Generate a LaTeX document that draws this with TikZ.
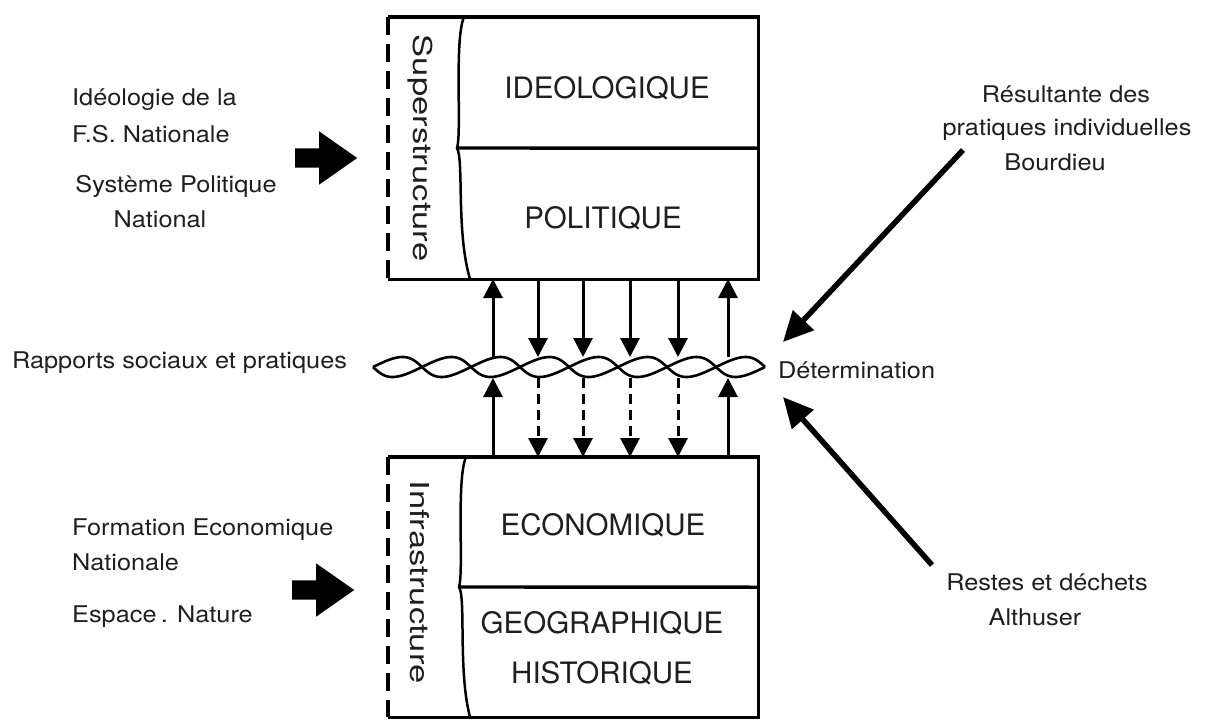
\documentclass[tikz,border=0pt]{standalone}
\usepackage{fontspec}
\setmainfont{TeX Gyre Heros}
\usepackage{graphicx}
\usetikzlibrary{arrows.meta,shapes.arrows}
\newcommand{\sxx}[1]{\scalebox{1.1}[1]{#1}}
\begin{document}
\begin{tikzpicture}[x=1pt,y=-1pt,
  boxline/.style={line width=3.4pt, line join=miter},
  bracel/.style={line width=2.5pt},
  boxlabel/.style={font=\fontsize{29.5}{50}\selectfont, text=black!88, align=center, inner sep=0pt},
  sidetext/.style={font=\fontsize{23}{36}\selectfont, text=black!88, inner sep=0pt},
  rottext/.style={font=\fontsize{26}{30}\selectfont, text=black!88, rotate=-90, inner sep=0pt},
  varrow/.style={line width=3pt, -{Triangle[length=19pt,width=19pt]}},
  darrow/.style={varrow, dash pattern=on 10pt off 6pt},
  diagarrow/.style={line width=5.5pt, -{Triangle[length=30pt,width=28pt]}},
  blockarrow/.style={single arrow, fill=black, draw=none, minimum height=62pt, inner sep=9.5pt, single arrow head extend=17pt, single arrow tip angle=70, anchor=west},
  strand/.style={line width=2.6pt}
]
\useasboundingbox (0,0) rectangle (1208,720);
\fill[white] (0,0) rectangle (1208,720);

% ---------- top box ----------
\node[anchor=north west, minimum width=370pt, minimum height=262pt, inner sep=0pt] (sup) at (388,17) {};
\draw[boxline] (sup.north west) -- (sup.north east) -- (sup.south east) -- (sup.south west);
\draw[boxline, dash pattern=on 18pt off 9pt] (sup.north west) -- (sup.south west);
\draw[bracel] (464,17) .. controls (454,40) and (462,133) .. (457,148) .. controls (464,160) and (456,232) .. (470,279);
\coordinate (supcusp) at (457,148);
\draw[boxline] (supcusp) -- (sup.east);
\node[rottext] (suplab) at (420,148) {\scalebox{1.33}[1]{Superstructure}};
\node[boxlabel] (ideo) at (607,88) {IDEOLOGIQUE};
\node[boxlabel] (poli) at (603,218) {POLITIQUE};

% ---------- bottom box ----------
\node[anchor=north west, minimum width=370pt, minimum height=260pt, inner sep=0pt] (inf) at (388,457) {};
\draw[boxline] (inf.north west) -- (inf.north east) -- (inf.south east) -- (inf.south west);
\draw[boxline, dash pattern=on 18pt off 9pt] (inf.north west) -- (inf.south west);
\draw[bracel] (466,457) .. controls (456,480) and (464,572) .. (459,587) .. controls (466,597) and (458,672) .. (470,717);
\coordinate (infcusp) at (459,587);
\draw[boxline] (infcusp) -- (inf.east);
\node[rottext] (inflab) at (420,582) {\scalebox{1.33}[1]{Infrastructure}};
\node[boxlabel] (eco) at (603,525) {ECONOMIQUE};
\node[boxlabel] (geo) at (602,648) {GEOGRAPHIQUE\\HISTORIQUE};

% ---------- vertical arrows ----------
\foreach \n/\x in {1/493,2/538,3/583,4/630,5/678,6/728} {
  \coordinate (ut\n) at (\x,279);
  \coordinate (wt\n) at (\x,357);
  \coordinate (wb\n) at (\x,378);
  \coordinate (lt\n) at (\x,457);
}
\foreach \n in {1,6} {
  \draw[varrow] (wt\n) -- (ut\n);
  \draw[varrow] (lt\n) -- (wb\n);
}
\foreach \n in {2,3,4,5} {
  \draw[varrow] (ut\n) -- (wt\n);
  \draw[darrow] (wb\n) -- (lt\n);
}

% ---------- wave (twisted ribbon) ----------
\draw[strand] plot[domain=0:392, samples=200, smooth] ({373+\x-5*sin(3.67347*\x)},{367+10*sin(3.67347*\x)});
\draw[strand] plot[domain=0:392, samples=200, smooth] ({373+\x+5*sin(3.67347*\x)},{367-10*sin(3.67347*\x)});

% ---------- left texts ----------
\node[sidetext, anchor=base west] (l1) at (72,105) {\sxx{Idéologie de la}};
\node[sidetext, anchor=base west] (l2) at (72,142) {\sxx{F.S. Nationale}};
\node[sidetext, anchor=base] (l3) at (176,192) {\sxx{Système Politique}};
\node[sidetext, anchor=base] (l4) at (160,227) {\sxx{National}};
\node[sidetext, anchor=base west] (l5) at (72,535) {\sxx{Formation Economique}};
\node[sidetext, anchor=base west] (l6) at (72,570) {\sxx{Nationale}};
\node[sidetext, anchor=base west] (l7) at (72,622) {\sxx{Espace\,. Nature}};
\node[sidetext, anchor=base west] (rap) at (12,368) {\sxx{Rapports sociaux et pratiques}};

\node[blockarrow] (ba1) at (295,158) {};
\node[blockarrow] (ba2) at (292,590) {};

% ---------- right texts ----------
\node[sidetext, anchor=base] (r1) at (1066,102) {\sxx{Résultante des}};
\node[sidetext, anchor=base] (r2) at (1067,135) {\sxx{pratiques individuelles}};
\node[sidetext, anchor=base] (r3) at (1055,170) {\sxx{Bourdieu}};
\node[sidetext, anchor=base west] (det) at (778,378) {\sxx{Détermination}};
\node[sidetext, anchor=base] (r4) at (1047,590) {\sxx{Restes et déchets}};
\node[sidetext, anchor=base] (r5) at (1035,625) {\sxx{Althuser}};

\coordinate (d1s) at (963,150);
\coordinate (d1e) at (783,342);
\coordinate (d2s) at (932,565);
\coordinate (d2e) at (783,397);
\draw[diagarrow] (d1s) -- (d1e);
\draw[diagarrow] (d2s) -- (d2e);
\end{tikzpicture}
\end{document}
